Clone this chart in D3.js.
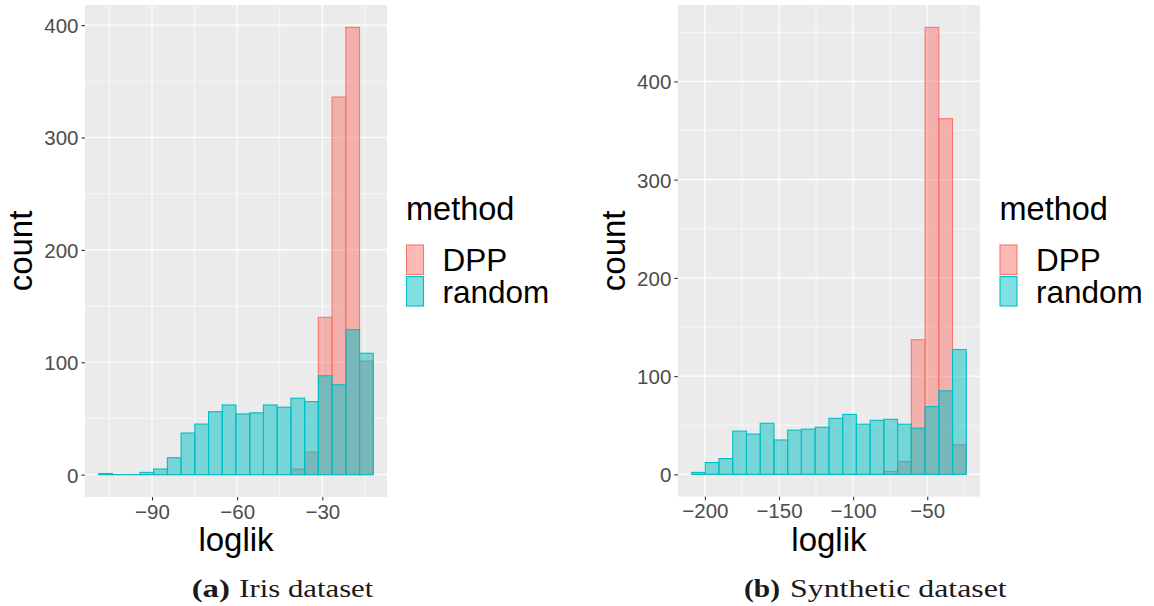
<!DOCTYPE html>
<html>
<head>
<meta charset="utf-8">
<script src="https://cdn.jsdelivr.net/npm/d3@7"></script>
<style>
  html, body { margin: 0; padding: 0; background: #ffffff; }
  svg { display: block; }
  text { font-family: "Liberation Sans", Arial, sans-serif; }
  .caption { font-family: "Liberation Serif", "Times New Roman", serif; fill: #1a1a1a; }
</style>
</head>
<body>
<svg id="chart" width="1154" height="606"></svg>
<script>
// Histogram bins: 20 equal-width bins spanning [lo, hi] of the loglik values
const irisRange = [-108.76, -12.05];
const synthRange = [-209.0, -23.67];
const binCount = 20;

// Counts per bin, left to right
const irisDPP    = [0, 0, 0, 0, 0, 0, 0, 0, 0, 0, 0, 0, 0, 0, 5, 20, 140, 336, 398, 101];
const irisRandom = [1, 0, 0, 2, 5, 15, 37, 45, 56, 62, 54, 55, 62, 60, 68, 65, 88, 80, 129, 108];

const synthDPP    = [0, 0, 0, 0, 0, 0, 0, 0, 0, 0, 0, 0, 0, 0, 3, 13, 137, 455, 362, 30];
const synthRandom = [2, 12, 16, 44, 41, 52, 35, 45, 46, 48, 57, 61, 51, 55, 56, 51, 47, 69, 85, 127];

// Axis breaks
const irisXMajor = [-90, -60, -30];
const irisXMinor = [-105, -75, -45, -15];
const synthXMajor = [-200, -150, -100, -50];
const synthXMinor = [-175, -125, -75, -25];
const yMajor = [0, 100, 200, 300, 400];
const yMinorIris = [50, 150, 250, 350];
const yMinorSynth = [50, 150, 250, 350, 450];

const methods = ["DPP", "random"];
const methodColors = ["#F8766D", "#00BFC4"];

const captions = [
  { tag: "(a)", text: "Iris dataset" },
  { tag: "(b)", text: "Synthetic dataset" }
];

const svg = d3.select("#chart");

function binsFrom(range, counts) {
  const w = (range[1] - range[0]) / binCount;
  return counts.map((c, i) => ({ x0: range[0] + i * w, x1: range[0] + (i + 1) * w, count: c }));
}

function drawPanel(opt) {
  const g = svg.append("g");
  const xr = opt.range;
  const xpad = (xr[1] - xr[0]) * 0.05;
  const ymax = d3.max([d3.max(opt.dpp), d3.max(opt.random)]);
  const ypad = ymax * 0.05;

  const x = d3.scaleLinear().domain([xr[0] - xpad, xr[1] + xpad]).range([opt.left, opt.right]);
  const y = d3.scaleLinear().domain([-ypad, ymax + ypad]).range([opt.bottom, opt.top]);

  // panel background
  g.append("rect")
    .attr("x", opt.left).attr("y", opt.top)
    .attr("width", opt.right - opt.left).attr("height", opt.bottom - opt.top)
    .attr("fill", "#EBEBEB");

  // minor grid
  g.selectAll(".gxm").data(opt.xMinor).join("line")
    .attr("x1", d => x(d)).attr("x2", d => x(d))
    .attr("y1", opt.top).attr("y2", opt.bottom)
    .attr("stroke", "#ffffff").attr("stroke-width", 0.6);
  g.selectAll(".gym").data(opt.yMinor).join("line")
    .attr("y1", d => y(d)).attr("y2", d => y(d))
    .attr("x1", opt.left).attr("x2", opt.right)
    .attr("stroke", "#ffffff").attr("stroke-width", 0.6);
  // major grid
  g.selectAll(".gxM").data(opt.xMajor).join("line")
    .attr("x1", d => x(d)).attr("x2", d => x(d))
    .attr("y1", opt.top).attr("y2", opt.bottom)
    .attr("stroke", "#ffffff").attr("stroke-width", 1.2);
  g.selectAll(".gyM").data(yMajor).join("line")
    .attr("y1", d => y(d)).attr("y2", d => y(d))
    .attr("x1", opt.left).attr("x2", opt.right)
    .attr("stroke", "#ffffff").attr("stroke-width", 1.2);

  // bars: DPP first, random overlaid (position = identity)
  [opt.dpp, opt.random].forEach((counts, k) => {
    const bins = binsFrom(xr, counts);
    const layer = g.append("g");
    layer.selectAll("rect").data(bins.filter(d => d.count > 0)).join("rect")
      .attr("x", d => x(d.x0))
      .attr("width", d => x(d.x1) - x(d.x0))
      .attr("y", d => y(d.count))
      .attr("height", d => y(0) - y(d.count))
      .attr("fill", methodColors[k]).attr("fill-opacity", 0.5)
      .attr("stroke", methodColors[k]).attr("stroke-width", 1.1);
    // empty bins collapse to their outline along the baseline
    layer.selectAll("line").data(bins.filter(d => d.count === 0)).join("line")
      .attr("x1", d => x(d.x0)).attr("x2", d => x(d.x1))
      .attr("y1", y(0)).attr("y2", y(0))
      .attr("stroke", methodColors[k]).attr("stroke-width", 1.1);
  });

  // axes
  const yAxis = d3.axisLeft(y).tickValues(yMajor).tickSize(3.5).tickPadding(3);
  const xAxis = d3.axisBottom(x).tickValues(opt.xMajor).tickSize(3.5).tickPadding(3)
    .tickFormat(d => d3.format("d")(d).replace("-", "\u2212"));

  const ya = g.append("g").attr("transform", `translate(${opt.left},0)`).call(yAxis);
  const xa = g.append("g").attr("transform", `translate(0,${opt.bottom})`).call(xAxis);
  [ya, xa].forEach(a => {
    a.select(".domain").remove();
    a.selectAll(".tick line").attr("stroke", "#333333").attr("stroke-width", 1.1);
    a.selectAll(".tick text").attr("fill", "#4D4D4D").style("font-size", "20.5px");
  });
  ya.selectAll(".tick text").attr("dy", "0.36em");
  xa.selectAll(".tick text").attr("dy", "0.74em");

  // axis titles
  g.append("text")
    .attr("x", (opt.left + opt.right) / 2).attr("y", opt.bottom + 54)
    .attr("text-anchor", "middle").style("font-size", "33px").attr("fill", "#000")
    .text("loglik");
  g.append("text")
    .attr("transform", `translate(${opt.left - 53},${(opt.top + opt.bottom) / 2}) rotate(-90)`)
    .attr("text-anchor", "middle").style("font-size", "33px").attr("fill", "#000")
    .text("count");

  // legend
  const lg = g.append("g").attr("transform", `translate(${opt.legendX},0)`);
  lg.append("text").attr("x", 0).attr("y", 220)
    .style("font-size", "32.5px").attr("fill", "#000").text("method");
  methods.forEach((m, i) => {
    const ky = 245 + i * 31.5;
    lg.append("rect")
      .attr("x", 0.5).attr("y", ky)
      .attr("width", 17).attr("height", 29.5)
      .attr("fill", methodColors[i]).attr("fill-opacity", 0.5)
      .attr("stroke", methodColors[i]).attr("stroke-width", 1.1);
    lg.append("text").attr("x", 36.5).attr("y", ky + 26)
      .style("font-size", "31.5px").attr("fill", "#000").text(m);
  });

  // caption: bold sub-figure tag followed by the dataset name
  g.append("text").attr("class", "caption")
    .attr("x", opt.cap.tagX).attr("y", 596.5)
    .style("font-size", "25px").attr("font-weight", "bold")
    .attr("textLength", opt.cap.tagW).attr("lengthAdjust", "spacingAndGlyphs")
    .text(opt.caption.tag);
  g.append("text").attr("class", "caption")
    .attr("x", opt.cap.textX).attr("y", 596.5)
    .style("font-size", "25px")
    .attr("textLength", opt.cap.textW).attr("lengthAdjust", "spacingAndGlyphs")
    .text(opt.caption.text);
}

drawPanel({
  range: irisRange, dpp: irisDPP, random: irisRandom,
  xMajor: irisXMajor, xMinor: irisXMinor, yMinor: yMinorIris,
  left: 85, right: 387, top: 5, bottom: 497,
  legendX: 406, caption: captions[0],
  cap: { tagX: 191.7, tagW: 38.3, textX: 239.3, textW: 134 }
});

drawPanel({
  range: synthRange, dpp: synthDPP, random: synthRandom,
  xMajor: synthXMajor, xMinor: synthXMinor, yMinor: yMinorSynth,
  left: 677.8, right: 980, top: 5, bottom: 496.7,
  legendX: 999.5, caption: captions[1],
  cap: { tagX: 744, tagW: 36, textX: 790, textW: 216.7 }
});
</script>
</body>
</html>
